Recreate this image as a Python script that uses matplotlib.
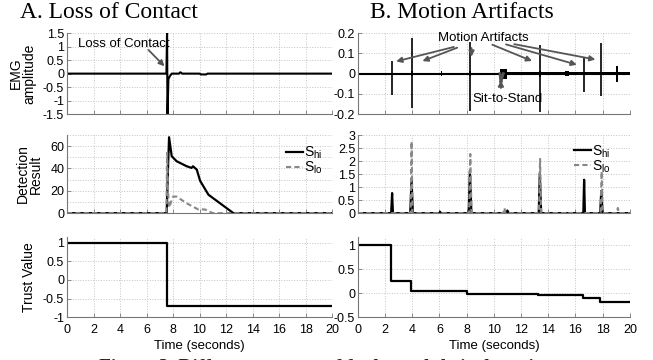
import numpy as np
import matplotlib.pyplot as plt

plt.rcParams['font.family'] = ['Liberation Sans', 'DejaVu Sans']
plt.rcParams['axes.unicode_minus'] = False

# ---- A. loss of contact: raw EMG (keypoints of the trace)
loss_t = [0, 7.50, 7.55, 7.58, 7.65, 7.75, 7.90, 8.45, 8.55, 8.70, 10.0, 10.1, 10.5, 10.6, 20]
loss_v = [0, 0, 1.6, -1.6, -0.2, -0.1, 0, 0, 0.05, 0, 0, -0.03, -0.03, 0, 0]
loss_blip_t = [1.9, 2.7, 4.0]          # small bursts before contact loss
loss_blip_amp = [0.03, 0.03, 0.03]

# ---- A. detection result
loss_hi_t = [0, 7.52, 7.62, 7.70, 7.90, 8.27, 9.03, 9.40, 9.50, 9.79, 10.04, 10.67, 12.55, 20]
loss_hi_v = [0, 0, 40, 68, 51, 46.5, 42, 40.5, 42, 39, 29, 16.5, 0, 0]
loss_lo_t = [0, 7.50, 7.55, 7.62, 7.70, 8.00, 8.27, 9.03, 9.90, 10.40, 11.00, 20]
loss_lo_v = [0, 0, 54, 20, 5, 14.8, 14.8, 8.8, 3.3, 3.3, 0, 0]

# ---- A. trust value
loss_trust_t = [0, 7.55, 20]
loss_trust_v = [1, -0.71, -0.71]

# ---- B. motion artifacts: spikes (time, top, bottom)
art_t = [2.52, 3.95, 8.24, 13.40, 16.60, 17.87]
art_top = [0.060, 0.177, 0.157, 0.140, 0.080, 0.150]
art_bot = [-0.105, -0.170, -0.185, -0.190, -0.090, -0.110]
# noisy bursts (start, end, half-amplitude)
burst_start = [3.88, 6.10, 8.18, 10.45, 11.0, 13.32, 15.25, 18.95]
burst_end = [4.05, 6.20, 8.32, 11.00, 20.0, 13.48, 15.55, 19.10]
burst_amp = [0.012, 0.012, 0.012, 0.025, 0.007, 0.015, 0.012, 0.040]
stand_t = [10.45, 10.52, 10.60, 10.70]
stand_v = [0, -0.045, -0.02, 0]

# ---- B. detection result
mot_hi_t = [0, 2.45, 2.52, 2.58, 3.85, 3.95, 4.05, 6.0, 6.05, 6.1, 8.15, 8.24, 8.35,
            10.9, 11.0, 11.1, 13.3, 13.38, 13.48, 16.58, 16.64, 16.7, 17.82, 17.9, 18.0, 20]
mot_hi_v = [0, 0, 0.77, 0, 0, 1.25, 0, 0, 0.05, 0, 0, 1.63, 0,
            0, 0.1, 0, 0, 1.53, 0, 0, 1.28, 0, 0, 0.85, 0, 0]
mot_lo_t = [0, 3.88, 3.95, 4.02, 8.18, 8.27, 8.36, 10.7, 10.78, 10.86, 13.32, 13.4, 13.48,
            15.35, 15.4, 15.45, 17.85, 17.93, 18.0, 19.05, 19.12, 19.2, 20]
mot_lo_v = [0, 0, 2.75, 0, 0, 2.27, 0, 0, 0.2, 0, 0, 2.08, 0,
            0, 0.05, 0, 0, 1.6, 0, 0, 0.2, 0, 0]

# ---- B. trust value (step changes)
mot_trust_t = [0, 2.45, 3.9, 8.0, 13.25, 16.55, 17.8, 20]
mot_trust_v = [1, 0.265, 0.04, -0.01, -0.045, -0.105, -0.18, -0.18]

xticks = list(range(0, 21, 2))
GRID = dict(color='#c4c4c4', linestyle=':', linewidth=0.7)
ARROW = dict(arrowstyle='-|>', color='#555555', lw=1.3, mutation_scale=8)


def style(ax, yticks, ylim, minor=None, xlabels=False):
    ax.set_xlim(0, 20)
    ax.set_ylim(*ylim)
    ax.set_xticks(xticks)
    ax.set_yticks(yticks)
    if minor is not None:
        ax.set_yticks(minor, minor=True)
        ax.tick_params(axis='y', which='minor', length=0)
    ax.yaxis.set_major_formatter(plt.FuncFormatter(lambda v, p: f'{v:g}'))
    ax.grid(True, which='both', **GRID)
    ax.set_axisbelow(True)
    for s in ['top', 'right']:
        ax.spines[s].set_visible(False)
    for s in ['left', 'bottom']:
        ax.spines[s].set_color('#777777')
    ax.tick_params(direction='in', length=3, width=0.6, color='#777777',
                   labelsize=9, pad=2)
    if not xlabels:
        ax.tick_params(axis='x', labelbottom=False)
    else:
        ax.tick_params(axis='x', pad=5)
        ax.set_xlabel('Time (seconds)', fontsize=9.5, labelpad=3)


fig = plt.figure(figsize=(6.53, 3.6), dpi=100)
lx, lw_ = 0.1026, 0.406
rx, rw = 0.548, 0.4165
rows = [(0.683, 0.225), (0.408, 0.217), (0.119, 0.222)]

ax1 = fig.add_axes([lx, rows[0][0], lw_, rows[0][1]])
ax2 = fig.add_axes([lx, rows[1][0], lw_, rows[1][1]])
ax3 = fig.add_axes([lx, rows[2][0], lw_, rows[2][1]])
bx1 = fig.add_axes([rx, rows[0][0], rw, rows[0][1]])
bx2 = fig.add_axes([rx, rows[1][0], rw, rows[1][1]])
bx3 = fig.add_axes([rx, rows[2][0], rw, rows[2][1]])

# A top
ax1.plot(loss_t, loss_v, color='black', lw=1.5)
for t, a in zip(loss_blip_t, loss_blip_amp):
    ax1.fill_between([t - 0.1, t + 0.1], -a, a, color='black', lw=0)
style(ax1, [-1.5, -1, -0.5, 0, 0.5, 1, 1.5], (-1.5, 1.5))
ax1.set_ylabel('EMG\namplitude', fontsize=10, linespacing=0.95, labelpad=5)
ax1.text(0.8, 1.08, 'Loss of Contact', fontsize=9.5, va='center')
ax1.annotate('', xy=(7.5, 0.2), xytext=(6.0, 0.95), arrowprops=ARROW)

# A middle
ax2.plot(loss_hi_t, loss_hi_v, color='black', lw=1.6, label=r'$\mathregular{S_{hi}}$')
ax2.plot(loss_lo_t, loss_lo_v, color='#888888', lw=1.5, ls=(0, (2.5, 1.5)),
         label=r'$\mathregular{S_{lo}}$')
style(ax2, [0, 20, 40, 60], (0, 70), minor=[10, 30, 50, 70])
ax2.set_ylabel('Detection\nResult', fontsize=10, linespacing=0.95, labelpad=5)

# A bottom
ax3.plot(loss_trust_t, loss_trust_v, color='black', lw=1.6, drawstyle='steps-post')
style(ax3, [-1, -0.5, 0, 0.5, 1], (-1, 1.15), xlabels=True)
ax3.set_ylabel('Trust Value', fontsize=10, labelpad=5)

# B top
bx1.axhline(0, color='black', lw=1.5)
for s, e, a in zip(burst_start, burst_end, burst_amp):
    bx1.fill_between([s, e], -a, a, color='black', lw=0)
bx1.vlines(art_t, art_bot, art_top, color='black', lw=1.2)
bx1.plot(stand_t, stand_v, color='#555555', lw=2)
style(bx1, [-0.2, -0.1, 0, 0.1, 0.2], (-0.2, 0.2))
bx1.text(9.2, 0.175, 'Motion Artifacts', fontsize=9.5, ha='center', va='center')
for (x0, y0), (x1, y1) in [((7.26, 0.135), (2.62, 0.057)),
                           ((7.5, 0.133), (4.56, 0.057)),
                           ((8.36, 0.14), (8.36, 0.07)),
                           ((9.7, 0.148), (13.0, 0.057)),
                           ((10.7, 0.148), (16.3, 0.04)),
                           ((11.3, 0.148), (17.67, 0.067))]:
    bx1.annotate('', xy=(x1, y1), xytext=(x0, y0), arrowprops=ARROW)
bx1.text(8.46, -0.125, 'Sit-to-Stand', fontsize=9.5, va='center')
bx1.annotate('', xy=(10.52, -0.02), xytext=(10.52, -0.085), arrowprops=ARROW)

# B middle
bx2.plot(mot_hi_t, mot_hi_v, color='black', lw=1.6, label=r'$\mathregular{S_{hi}}$')
bx2.plot(mot_lo_t, mot_lo_v, color='#888888', lw=1.5, ls=(0, (2.5, 1.5)),
         label=r'$\mathregular{S_{lo}}$')
style(bx2, [0, 0.5, 1, 1.5, 2, 2.5, 3], (0, 3))

# B bottom
bx3.plot(mot_trust_t, mot_trust_v, color='black', lw=1.6, drawstyle='steps-post')
style(bx3, [-0.5, 0, 0.5, 1], (-0.5, 1.17), xlabels=True)

for ax, anchor in [(ax2, (0.79, 1.0)), (bx2, (0.76, 1.02))]:
    ax.legend(loc='upper left', bbox_to_anchor=anchor, frameon=False, fontsize=10,
              handlelength=1.2, handletextpad=0.1, labelspacing=-0.1, borderpad=0.2)

fig.text(0.031, 0.95, 'A. Loss of Contact', family='Liberation Serif', fontsize=17)
fig.text(0.566, 0.95, 'B. Motion Artifacts', family='Liberation Serif', fontsize=17)
fig.text(0.5, -0.022, 'Figure 3. Different sources of faults and their detection',
         family='Liberation Serif', fontweight='bold', fontsize=14, ha='center',
         va='center', color='#222222')

fig.savefig('out.png', dpi=100)
